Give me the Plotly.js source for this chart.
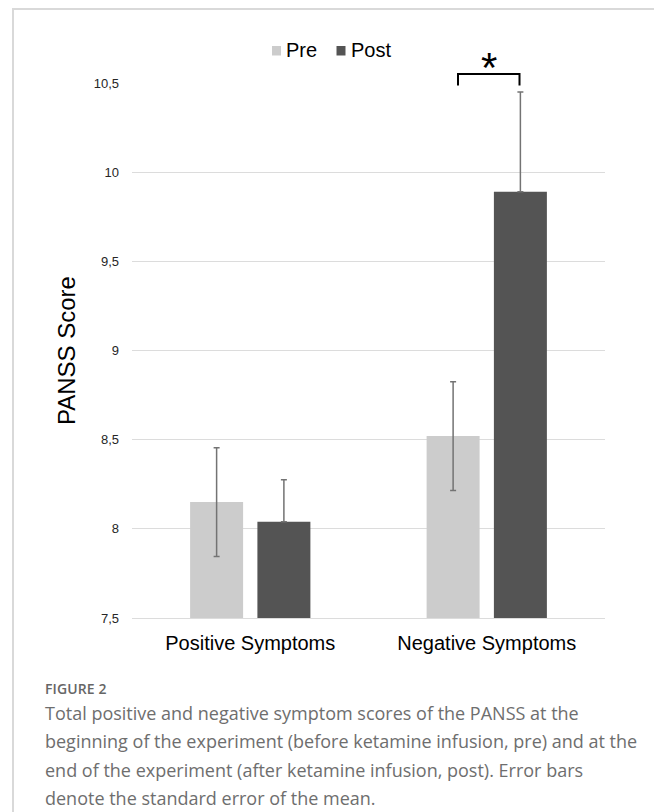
<!DOCTYPE html>
<html>
<head>
<meta charset="utf-8">
<script src="https://cdn.plot.ly/plotly-3.0.1.min.js"></script>
<style>
  html, body { margin: 0; padding: 0; background: #ffffff; }
  #wrap { position: relative; width: 654px; height: 812px; overflow: hidden; background: #fff; }
  #chart { position: absolute; left: 0; top: 0; width: 654px; height: 812px; }
  #frame { position: absolute; left: 12px; top: 8px; width: 700px; height: 900px;
           border-top: 2px solid #d9d9d9; border-left: 2px solid #d9d9d9; pointer-events: none; }
  #caption { position: absolute; left: 45px; top: 679px; width: 605px;
             font-family: "Open Sans", "Noto Sans", sans-serif; color: #6e6e6e; }
  #caption .lab { font-size: 14px; font-weight: 600; color: #666; line-height: 20px; letter-spacing: 0.1px; }
  #caption .txt { font-size: 18px; line-height: 28.4px; margin-top: 0px; }
</style>
</head>
<body>
<div id="wrap">
  <div id="chart"></div>
  <div id="frame"></div>
  <div id="caption">
    <div class="lab">FIGURE 2</div>
    <div class="txt">Total positive and negative symptom scores of the PANSS at the<br>beginning of the experiment (before ketamine infusion, pre) and at the<br>end of the experiment (after ketamine infusion, post). Error bars<br>denote the standard error of the mean.</div>
  </div>
</div>
<script>
// ---- data ----
const categories = ["Positive Symptoms", "Negative Symptoms"];
const seriesNames = ["Pre", "Post"];
const seriesColors = ["#cccccc", "#545454"];
const preValues = [8.15, 8.52];
const preSE = [0.305, 0.305];
const postValues = [8.04, 9.89];
const postSE = [0.235, 0.56];
const yTickVals = [7.5, 8, 8.5, 9, 9.5, 10, 10.5];
const yTickText = ["7,5", "8", "8,5", "9", "9,5", "10", "10,5"];
const sigLabel = "*";

const font = "Liberation Sans, Arial, sans-serif";

// plot-area geometry (px) used to place paper-referenced decorations
const PL = 132, PR = 605, PT = 83, PB = 618;
const px = v => (v - PL) / (PR - PL);
const py = v => (PB - v) / (PB - PT);

const traces = [
  {
    type: "bar", name: seriesNames[0], x: categories, y: preValues,
    marker: { color: seriesColors[0] },
    error_y: { type: "data", array: preSE, visible: true, color: "#737373", thickness: 1.5, width: 3 },
    hoverinfo: "skip", showlegend: false
  },
  {
    type: "bar", name: seriesNames[1], x: categories, y: postValues,
    marker: { color: seriesColors[1] },
    error_y: { type: "data", symmetric: false, array: postSE, arrayminus: [0, 0], visible: true, color: "#737373", thickness: 1.5, width: 3 },
    hoverinfo: "skip", showlegend: false
  }
];

// manual legend (square + label) placed like the original
const legendSquares = [276.5, 341];
const legendTextX = [285, 350];
const legendY = 50.5;
const shapes = [];
const annotations = [];
seriesNames.forEach((n, i) => {
  shapes.push({
    type: "rect", xref: "paper", yref: "paper",
    x0: px(legendSquares[i] - 4.5), x1: px(legendSquares[i] + 4.5),
    y0: py(legendY + 5), y1: py(legendY - 4.5),
    fillcolor: seriesColors[i], line: { width: 0 }
  });
  annotations.push({
    xref: "paper", yref: "paper", x: px(legendTextX[i]), y: py(legendY),
    text: n, showarrow: false, xanchor: "left", yanchor: "middle",
    font: { family: font, size: 20, color: "#000" }, borderpad: 0
  });
});

// significance bracket and star
shapes.push({
  type: "path", xref: "paper", yref: "paper",
  path: "M " + px(458) + " " + py(85.5) + " L " + px(458) + " " + py(74) +
        " L " + px(519.5) + " " + py(74) + " L " + px(519.5) + " " + py(85.5),
  line: { color: "#000", width: 2 }
});
annotations.push({
  xref: "paper", yref: "paper", x: px(489), y: py(62.5),
  text: sigLabel, showarrow: false, xanchor: "center", yanchor: "middle",
  font: { family: font, size: 42, color: "#000" }, yshift: -5
});

const layout = {
  width: 654, height: 812,
  margin: { l: PL, r: 654 - PR, t: PT, b: 812 - PB },
  paper_bgcolor: "rgba(0,0,0,0)",
  plot_bgcolor: "#ffffff",
  font: { family: font, color: "#000" },
  barmode: "group",
  bargap: 0.431,
  bargroupgap: 0.2125,
  showlegend: false,
  xaxis: {
    type: "category",
    tickfont: { family: font, size: 20, color: "#000" },
    showgrid: false, showline: true, linecolor: "#dcdcdc", linewidth: 1,
    ticks: "", ticklabelstandoff: 7, fixedrange: true
  },
  yaxis: {
    range: [7.5, 10.5],
    tickvals: yTickVals, ticktext: yTickText,
    tickfont: { family: font, size: 13, color: "#262626" },
    showgrid: true, gridcolor: "#dcdcdc", gridwidth: 1,
    zeroline: false, showline: false, ticks: "", ticklabelstandoff: 12,
    title: { text: "PANSS Score", font: { family: font, size: 24, color: "#000" }, standoff: 11 },
    fixedrange: true
  },
  shapes: shapes,
  annotations: annotations
};

Plotly.newPlot("chart", traces, layout, { displayModeBar: false, staticPlot: true });
</script>
</body>
</html>
